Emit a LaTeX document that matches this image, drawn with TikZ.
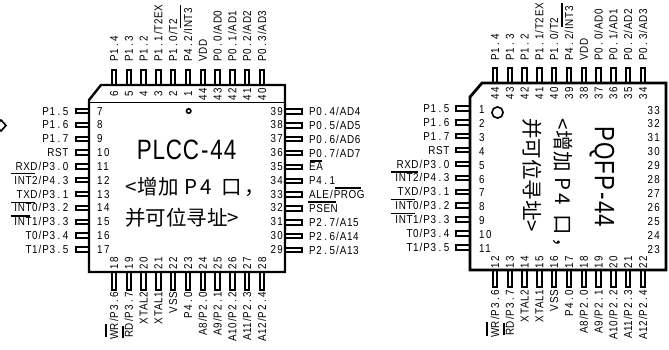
\documentclass[tikz,border=0pt]{standalone}
\usepackage{fontspec}
\newfontfamily\pinf[FakeStretch=0.86,LetterSpace=5]{Liberation Sans}
\newfontfamily\numf[FakeStretch=0.85,LetterSpace=12]{Liberation Sans}
\newfontfamily\bigf[FakeStretch=0.8,LetterSpace=3]{Liberation Sans}
\newfontfamily\cjk{Noto Sans CJK SC}
\newcommand{\dt}{\kern2.5pt.\kern2.5pt}
\newcommand{\sla}{\kern1pt/\kern1pt}
\tikzset{
  lbl/.style={inner sep=0pt,text height=8pt,text depth=0pt,font=\pinf\fontsize{11.5}{12}\selectfont},
  num/.style={inner sep=0pt,text height=8pt,text depth=0pt,font=\numf\fontsize{11.5}{12}\selectfont},
  pin/.style={draw=black,line width=2pt,fill=white},
  body/.style={draw=black,line width=2.4pt,line join=miter},
  bar/.style={draw=black,line width=1.4pt},
  ring/.style={draw=black,line width=1.6pt},
  title/.style={inner sep=0pt,font=\bigf\fontsize{28}{30}\selectfont},
  hanzi/.style={inner sep=0pt,font=\cjk\fontsize{20.5}{22}\selectfont}
}
\begin{document}
\begin{tikzpicture}[x=1pt,y=-1pt]
\useasboundingbox (0,0) rectangle (669,349);
% ---------- PLCC-44 ----------
\foreach \t [count=\i from 0] in {P1\dt 4,P1\dt 3,P1\dt 2,P1\dt 1\sla T2EX,P1\dt 0\sla T2,P4\dt 2\sla INT3,VDD,P0\dt 0\sla AD0,P0\dt 1\sla AD1,P0\dt 2\sla AD2,P0\dt 3\sla AD3}{
  \pgfmathsetmacro\px{114+14.8*\i}
  \draw[pin] (\px-2.2,69.5) rectangle (\px+2.2,85);
  \node[lbl,rotate=90,anchor=west] at (\px,62) {\t};
}
\foreach \t [count=\i from 0] in {WR\sla P3\dt 6,RD\sla P3\dt 7,XTAL2,XTAL1,VSS,P4\dt 0,A8\sla P2\dt 0,A9\sla P2\dt 1,A10\sla P2\dt 2,A11\sla P2\dt 3,A12\sla P2\dt 4}{
  \pgfmathsetmacro\px{114+14.8*\i}
  \draw[pin] (\px-2.2,272) rectangle (\px+2.2,289.5);
  \node[lbl,rotate=90,anchor=east] at (\px,292) {\t};
}
\foreach \t [count=\i from 0] in {P1\dt 5,P1\dt 6,P1\dt 7,RST,RXD\sla P3\dt 0,INT2\sla P4\dt 3,TXD\sla P3\dt 1,INT0\sla P3\dt 2,INT1\sla P3\dt 3,T0\sla P3\dt 4,T1\sla P3\dt 5}{
  \pgfmathsetmacro\py{111+13.85*\i}
  \draw[pin] (76,\py-2.2) rectangle (89,\py+2.2);
  \node[lbl,anchor=east] at (68.5,\py) {\t};
}
\foreach \t [count=\i from 0] in {P0\dt 4\sla AD4,P0\dt 5\sla AD5,P0\dt 6\sla AD6,P0\dt 7\sla AD7,EA,P4\dt 1,ALE\sla PROG,PSEN,P2\dt 7\sla A15,P2\dt 6\sla A14,P2\dt 5\sla A13}{
  \pgfmathsetmacro\py{111.5+13.85*\i}
  \draw[pin] (285,\py-2.2) rectangle (302,\py+2.2);
  \node[lbl,anchor=west] at (309,\py) {\t};
}
\draw[body,fill=white] (89,100) -- (101,85) -- (285,85) -- (285,272) -- (89,272) -- cycle;
\draw[draw=black,line width=1.6pt] (89,102.5) -- (285,102.5);
\foreach \t [count=\i from 0] in {6,5,4,3,2,1,44,43,42,41,40}{
  \node[num,rotate=90] at (114+14.8*\i,94) {\t};
}
\foreach \t [count=\i from 0] in {18,19,20,21,22,23,24,25,26,27,28}{
  \node[num,rotate=90] at (114+14.8*\i,263.5) {\t};
}
\foreach \t [count=\i from 0] in {7,8,9,10,11,12,13,14,15,16,17}{
  \node[num,anchor=west] at (97,111+13.85*\i) {\t};
}
\foreach \t [count=\i from 0] in {39,38,37,36,35,34,33,32,31,30,29}{
  \node[num,anchor=east] at (283,111+13.85*\i) {\t};
}
\draw[ring] (188.7,111) circle (2.2);
\node[title] (plcc) at (186.5,150) {PLCC\kern2pt-\kern2pt 44};
\node[hanzi,anchor=west] (plccA) at (125,187) {<\kern1pt增加\kern6pt P\kern3pt 4\kern10pt 口\kern2pt ，};
\node[hanzi,anchor=west] (plccB) at (125,218) {并可位寻址>};
% overbars, left chip
\draw[bar] (11,173.3) -- (35,173.3);
\draw[bar] (11,202.5) -- (35,202.5);
\draw[bar] (10.5,216) -- (29.5,216);
\draw[bar] (180.3,5) -- (180.3,28);
\draw[bar] (106,324) -- (106,337);
\draw[bar] (123,326) -- (123,338);
\draw[bar] (310,161) -- (322,161);
\draw[bar] (335,188) -- (361,188);
\draw[bar] (308,202) -- (336,202);
% stray mark at the left margin
\draw[draw=black,line width=1.6pt] (1,120) -- (6,125.5) -- (1,131) -- (-4,125.5) -- cycle;
% ---------- PQFP-44 ----------
\foreach \t [count=\i from 0] in {P1\dt 4,P1\dt 3,P1\dt 2,P1\dt 1\sla T2EX,P1\dt 0\sla T2,P4\dt 2\sla INT3,VDD,P0\dt 0\sla AD0,P0\dt 1\sla AD1,P0\dt 2\sla AD2,P0\dt 3\sla AD3}{
  \pgfmathsetmacro\px{495+14.8*\i}
  \draw[pin] (\px-2.2,67.5) rectangle (\px+2.2,83);
  \node[lbl,rotate=90,anchor=west] at (\px,60.5) {\t};
}
\foreach \t [count=\i from 0] in {WR\sla P3\dt 6,RD\sla P3\dt 7,XTAL2,XTAL1,VSS,P4\dt 0,A8\sla P2\dt 0,A9\sla P2\dt 1,A10\sla P2\dt 2,A11\sla P2\dt 3,A12\sla P2\dt 4}{
  \pgfmathsetmacro\px{495+14.8*\i}
  \draw[pin] (\px-2.2,270) rectangle (\px+2.2,286.5);
  \node[lbl,rotate=90,anchor=east] at (\px,290) {\t};
}
\foreach \t [count=\i from 0] in {P1\dt 5,P1\dt 6,P1\dt 7,RST,RXD\sla P3\dt 0,INT2\sla P4\dt 3,TXD\sla P3\dt 1,INT0\sla P3\dt 2,INT1\sla P3\dt 3,T0\sla P3\dt 4,T1\sla P3\dt 5}{
  \pgfmathsetmacro\py{108.5+13.88*\i}
  \draw[pin] (456,\py-2.2) rectangle (470,\py+2.2);
  \node[lbl,anchor=east] at (449.5,\py) {\t};
}
\draw[body,fill=white,line width=2.8pt] (470,97) -- (482,83) -- (666,83) -- (666,270) -- (470,270) -- cycle;
\foreach \t [count=\i from 0] in {44,43,42,41,40,39,38,37,36,35,34}{
  \node[num,rotate=90] at (495+14.8*\i,93.5) {\t};
}
\foreach \t [count=\i from 0] in {12,13,14,15,16,17,18,19,20,21,22}{
  \node[num,rotate=90] at (495+14.8*\i,262.5) {\t};
}
\foreach \t [count=\i from 0] in {1,2,3,4,5,6,7,8,9,10,11}{
  \node[num,anchor=west] at (479,109.5+13.9*\i) {\t};
}
\foreach \t [count=\i from 0] in {33,32,31,30,29,28,27,26,25,24,23}{
  \node[num,anchor=east] at (660,110+13.9*\i) {\t};
}
\draw[ring] (497.5,112.5) circle (5.6);
\node[title,rotate=-90] (pqfp) at (602,177) {PQFP\kern2pt-\kern2pt 44};
\node[hanzi,rotate=-90,anchor=west] (pqfpA) at (563,118) {<\kern1pt增加\kern6pt P\kern3pt 4\kern10pt 口\kern2pt ，};
\node[hanzi,rotate=-90,anchor=west] (pqfpB) at (532,118) {并可位寻址>};
% overbars, right chip
\draw[bar] (391,172) -- (418,172);
\draw[bar] (391,199.5) -- (415,199.5);
\draw[bar] (391,213.3) -- (415,213.3);
\draw[bar] (562,3) -- (562,27);
\draw[bar] (487,322) -- (487,336);
\draw[bar] (504,323) -- (504,335);
\end{tikzpicture}
\end{document}
